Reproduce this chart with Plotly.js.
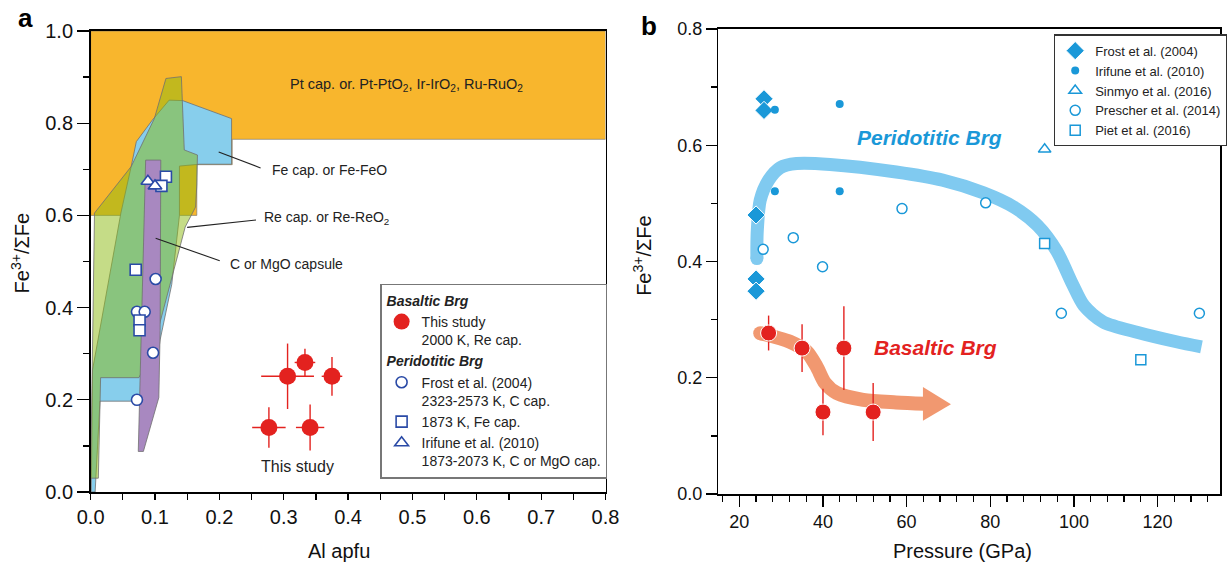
<!DOCTYPE html>
<html><head><meta charset="utf-8">
<script src="https://cdn.plot.ly/plotly-3.0.1.min.js"></script>
<style>body{margin:0;background:#fff}#chart{width:1227px;height:570px}</style>
</head><body><div id="chart"></div>
<script>
// ---------- Panel a : Fe3+/ΣFe vs Al apfu ----------
const basAl    = [0.306, 0.333, 0.375, 0.277, 0.341];
const basFe    = [0.251, 0.281, 0.251, 0.140, 0.140];
const basAlErr = [0.041, 0.016, 0.016, 0.026, 0.022];
const basFeErr = [0.071, 0.030, 0.042, 0.044, 0.050];

const frostAl = [0.101, 0.072, 0.084, 0.097, 0.072];
const frostFe = [0.462, 0.391, 0.391, 0.302, 0.200];
const feCapAl = [0.070, 0.076, 0.076, 0.117, 0.110];
const feCapFe = [0.482, 0.372, 0.351, 0.684, 0.664];
const irifAl  = [0.089, 0.100];
const irifFe  = [0.674, 0.664];

// capsule fields (outlines)
const ptFieldX = [0, 0.8, 0.8, 0.22, 0.22, 0.165, 0.165, 0, 0];
const ptFieldY = [1, 1, 0.765, 0.765, 0.71, 0.71, 0.6, 0.6, 1];
const feFieldX = [0.122,0.143,0.219,0.219,0.169,0.138,0.138,0.126,0.108,0.100,0.100,0.0145,0.007,0.001,0.003,0.047,0.063,0.071,0.096,0.122];
const feFieldY = [0.850,0.849,0.810,0.711,0.711,0.707,0.600,0.450,0.330,0.248,0.197,0.197,0.000,0.000,0.265,0.605,0.706,0.760,0.807,0.850];
const reFieldX = [0.000,0.006,0.063,0.099,0.117,0.141,0.1455,0.166,0.165,0.163,0.147,0.110,0.095,0.075,0.0155,0.012,0.000];
const reFieldY = [0.030,0.605,0.706,0.810,0.897,0.901,0.742,0.731,0.666,0.618,0.575,0.381,0.300,0.248,0.248,0.030,0.030];
const cFieldX  = [0.0855,0.109,0.108,0.106,0.082,0.074,0.0855];
const cFieldY  = [0.720,0.720,0.350,0.205,0.088,0.088,0.720];

// ---------- Panel b : Fe3+/ΣFe vs Pressure ----------
const frostP = [25.9, 25.9, 24.0, 24.0, 24.0];
const frostR = [0.680, 0.660, 0.480, 0.370, 0.349];
const irifP  = [28.5, 44.0, 28.5, 44.0];
const irifR  = [0.661, 0.671, 0.521, 0.521];
const sinmyoP = [93.0];
const sinmyoR = [0.593];
const prescherP = [25.7, 32.9, 39.9, 58.9, 78.9, 97.0, 130.0];
const prescherR = [0.421, 0.441, 0.391, 0.491, 0.501, 0.311, 0.311];
const pietP = [93.0, 116.0];
const pietR = [0.431, 0.231];

const basP    = [27.0, 35.0, 40.0, 45.0, 52.0];
const basR    = [0.277, 0.251, 0.141, 0.251, 0.141];
const basRErr = [0.030, 0.041, 0.040, 0.072, 0.050];

const peridTrendP = [24.2, 24.2, 24.3, 25.0, 27.0, 29.8, 33.7, 41.7, 57.5, 68.6, 78.4, 85.8, 91.3, 95.9, 99.6, 102.4, 107.0, 115.3, 124.5, 130.5];
const peridTrendR = [0.405, 0.430, 0.454, 0.5055, 0.540, 0.5616, 0.5685, 0.567, 0.554, 0.540, 0.518, 0.493, 0.462, 0.418, 0.362, 0.324, 0.296, 0.278, 0.262, 0.253];
const basTrendP = [25.0, 32.1, 36.1, 38.5, 40.5, 43.3, 49.6, 57.5, 64.5];
const basTrendR = [0.2767, 0.262, 0.245, 0.219, 0.191, 0.1737, 0.162, 0.1576, 0.1553];
const arrowHeadP = [63.9, 70.6, 63.9, 63.9];
const arrowHeadR = [0.184, 0.1545, 0.126, 0.184];

// ---------- styling ----------
const FONT = 'Arial, "Liberation Sans", Helvetica, sans-serif';
const RED = '#e3221f';
const DBLUE = '#2a4aa6';
const LBLUE = '#1a98d8';
const OUT = '#707070';
const PERID_BAND = 'rgb(128,202,240)';
const BAS_BAND = 'rgb(241,152,112)';

const traces = [];
function field(x, y, fill, lw) {
  traces.push({x, y, type:'scatter', mode:'lines', fill:'toself', fillcolor:fill,
    line:{color:OUT, width:lw}, xaxis:'x', yaxis:'y', showlegend:false, hoverinfo:'skip'});
}
field(ptFieldX, ptFieldY, 'rgb(248,182,45)', 0.6);
field(feFieldX, feFieldY, 'rgb(135,206,236)', 0.8);
field(reFieldX, reFieldY, 'rgba(139,185,15,0.5)', 0.8);
field(cFieldX, cFieldY, 'rgb(168,136,192)', 0.8);

// leader lines (panel a)
const leadFeX = [0.199, 0.264], leadFeY = [0.7375, 0.703];
const leadReX = [0.150, 0.257], leadReY = [0.574, 0.590];
const leadCX  = [0.101, 0.2006], leadCY = [0.5505, 0.5017];
[[leadFeX, leadFeY],[leadReX, leadReY],[leadCX, leadCY]].forEach(([x,y]) => {
  traces.push({x, y, type:'scatter', mode:'lines', line:{color:'#222', width:1.1},
    xaxis:'x', yaxis:'y', showlegend:false, hoverinfo:'skip'});
});

// panel a data
const grpFont = {family:FONT, size:14, weight:'bold', style:'italic', color:'#222'};
traces.push({x:basAl, y:basFe, type:'scatter', mode:'markers', xaxis:'x', yaxis:'y',
  name:'This study<br>2000 K, Re cap.', legend:'legend', legendgroup:'bas',
  legendgrouptitle:{text:'Basaltic Brg', font:grpFont},
  marker:{color:RED, size:17, line:{width:0}},
  error_x:{type:'data', array:basAlErr, color:RED, thickness:1.4, width:0},
  error_y:{type:'data', array:basFeErr, color:RED, thickness:1.4, width:0}});
const peridTitle = {text:'Peridotitic Brg', font:grpFont};
traces.push({x:frostAl, y:frostFe, type:'scatter', mode:'markers', xaxis:'x', yaxis:'y',
  name:'Frost et al. (2004)<br>2323-2573 K, C cap.', legend:'legend', legendgroup:'per', legendgrouptitle:peridTitle,
  marker:{symbol:'circle', color:'white', size:11, line:{color:DBLUE, width:1.6}}});
traces.push({x:feCapAl, y:feCapFe, type:'scatter', mode:'markers', xaxis:'x', yaxis:'y',
  name:'1873 K, Fe cap.', legend:'legend', legendgroup:'per', legendgrouptitle:peridTitle,
  marker:{symbol:'square', color:'white', size:11, line:{color:DBLUE, width:1.6}}});
traces.push({x:irifAl, y:irifFe, type:'scatter', mode:'markers', xaxis:'x', yaxis:'y',
  name:'Irifune et al. (2010)<br>1873-2073 K, C or MgO cap.', legend:'legend', legendgroup:'per', legendgrouptitle:peridTitle,
  marker:{symbol:'triangle-up', color:'white', size:12, line:{color:DBLUE, width:1.6}}});

// panel b trends
traces.push({x:peridTrendP, y:peridTrendR, type:'scatter', mode:'lines', xaxis:'x2', yaxis:'y2',
  line:{color:PERID_BAND, width:13, shape:'spline', smoothing:0.8}, showlegend:false, hoverinfo:'skip'});
traces.push({x:[peridTrendP[0]], y:[peridTrendR[0]], type:'scatter', mode:'markers', xaxis:'x2', yaxis:'y2',
  marker:{color:PERID_BAND, size:13, line:{width:0}}, showlegend:false, hoverinfo:'skip'});
traces.push({x:basTrendP, y:basTrendR, type:'scatter', mode:'lines', xaxis:'x2', yaxis:'y2',
  line:{color:BAS_BAND, width:14, shape:'spline', smoothing:0.8}, showlegend:false, hoverinfo:'skip'});
traces.push({x:[basTrendP[0]], y:[basTrendR[0]], type:'scatter', mode:'markers', xaxis:'x2', yaxis:'y2',
  marker:{color:BAS_BAND, size:14, line:{width:0}}, showlegend:false, hoverinfo:'skip'});
traces.push({x:arrowHeadP, y:arrowHeadR, type:'scatter', mode:'lines', fill:'toself', xaxis:'x2', yaxis:'y2',
  fillcolor:BAS_BAND, line:{width:0}, showlegend:false, hoverinfo:'skip'});

// panel b data
traces.push({x:frostP, y:frostR, type:'scatter', mode:'markers', xaxis:'x2', yaxis:'y2',
  name:'Frost et al. (2004)', legend:'legend2',
  marker:{symbol:'diamond', color:LBLUE, size:14, line:{color:'white', width:1}}});
traces.push({x:irifP, y:irifR, type:'scatter', mode:'markers', xaxis:'x2', yaxis:'y2',
  name:'Irifune et al. (2010)', legend:'legend2',
  marker:{symbol:'circle', color:LBLUE, size:8, line:{width:0}}});
traces.push({x:sinmyoP, y:sinmyoR, type:'scatter', mode:'markers', xaxis:'x2', yaxis:'y2',
  name:'Sinmyo et al. (2016)', legend:'legend2',
  marker:{symbol:'triangle-up', color:'white', size:11, line:{color:LBLUE, width:1.5}}});
traces.push({x:prescherP, y:prescherR, type:'scatter', mode:'markers', xaxis:'x2', yaxis:'y2',
  name:'Prescher et al. (2014)', legend:'legend2',
  marker:{symbol:'circle', color:'white', size:10, line:{color:LBLUE, width:1.5}}});
traces.push({x:pietP, y:pietR, type:'scatter', mode:'markers', xaxis:'x2', yaxis:'y2',
  name:'Piet et al. (2016)', legend:'legend2',
  marker:{symbol:'square', color:'white', size:10, line:{color:LBLUE, width:1.5}}});
traces.push({x:basP, y:basR, type:'scatter', mode:'markers', xaxis:'x2', yaxis:'y2', showlegend:false,
  marker:{color:RED, size:16, line:{color:'white', width:1}},
  error_y:{type:'data', array:basRErr, color:RED, thickness:1.4, width:0}});

const axBase = {showgrid:false, zeroline:false, showline:true, linecolor:'#000', linewidth:1.6,
  mirror:true, ticks:'outside', tickcolor:'#000', tickwidth:1.3};

function ann(text, xref, yref, x, y, size, extra) {
  return Object.assign({text, xref, yref, x, y, xanchor:'center', yanchor:'middle', showarrow:false,
    font:{size, family:FONT, color:'#111'}}, extra || {});
}

const layout = {
  width:1227, height:570, margin:{l:0,r:0,t:0,b:0}, paper_bgcolor:'white', plot_bgcolor:'white',
  font:{family:FONT, color:'#111'},
  xaxis:Object.assign({}, axBase, {domain:[0.07416,0.49552], range:[0,0.8], dtick:0.1, tick0:0, tickformat:'.1f',
    ticklen:6, tickfont:{size:20}, minor:{dtick:0.05, ticklen:6, tickcolor:'#000', ticks:'outside'}, anchor:'y'}),
  yaxis:Object.assign({}, axBase, {domain:[0.13684,0.94561], range:[0,1.0], dtick:0.2, tick0:0, tickformat:'.1f',
    ticklen:12, tickfont:{size:20}, minor:{dtick:0.1, ticklen:6, tickcolor:'#000', ticks:'outside'}, anchor:'x'}),
  xaxis2:Object.assign({}, axBase, {domain:[0.5879,0.9986], range:[15,135], dtick:20, tick0:0,
    ticklen:11, tickfont:{size:18}, minor:{dtick:4, ticklen:6, tickcolor:'#000', ticks:'outside'}, anchor:'y2'}),
  yaxis2:Object.assign({}, axBase, {domain:[0.1333,0.9491], range:[0,0.8], dtick:0.2, tick0:0, tickformat:'.1f',
    ticklen:11, tickfont:{size:18}, minor:{dtick:0.1, ticklen:6, tickcolor:'#000', ticks:'outside'}, anchor:'x2'}),
  legend:{x:0.3113, y:0.5025, xanchor:'left', yanchor:'top', bgcolor:'white', bordercolor:'#777', borderwidth:1.2,
    font:{size:14, family:FONT, color:'#222'}, traceorder:'grouped', tracegroupgap:0, valign:'top', itemwidth:30},
  legend2:{x:0.8628, y:0.9395, xanchor:'left', yanchor:'top', bgcolor:'white', bordercolor:'#333', borderwidth:1.2,
    font:{size:13, family:FONT, color:'#222'}, itemwidth:30, tracegroupgap:0},
  showlegend:true,
  annotations:[
    ann('<b>a</b>', 'paper', 'paper', 26/1227, 1-18/570, 26, {font:{size:26, family:FONT, color:'#000'}}),
    ann('<b>b</b>', 'paper', 'paper', 652/1227, 1-26/570, 26, {font:{size:26, family:FONT, color:'#000'}}),
    ann('Fe<sup>3+</sup>/ΣFe', 'paper', 'paper', 20.8/1227, 1-252.7/570, 20, {textangle:-90}),
    ann('Fe<sup>3+</sup>/ΣFe', 'paper', 'paper', 645/1227, 1-255.5/570, 20, {textangle:-90}),
    ann('Al apfu', 'paper', 'paper', 340.8/1227, 1-551/570, 20),
    ann('Pressure (GPa)', 'paper', 'paper', 966.5/1227, 1-551/570, 20),
    ann('Pt cap. or. Pt-PtO<sub>2</sub>, Ir-IrO<sub>2</sub>, Ru-RuO<sub>2</sub>', 'x', 'y', 0.49, 0.882, 14, {font:{size:14.5, family:FONT, color:'#222'}}),
    ann('Fe cap. or Fe-FeO', 'x', 'y', 0.279, 0.699, 14, {xanchor:'left', font:{size:14, family:FONT, color:'#222'}}),
    ann('Re cap. or Re-ReO<sub>2</sub>', 'x', 'y', 0.266, 0.594, 14, {xanchor:'left', font:{size:14, family:FONT, color:'#222'}}),
    ann('C or MgO capsule', 'x', 'y', 0.214, 0.494, 14, {xanchor:'left', font:{size:14, family:FONT, color:'#222'}}),
    ann('This study', 'x', 'y', 0.321, 0.056, 16, {font:{size:16, family:FONT, color:'#222'}}),
    ann('<b><i>Peridotitic Brg</i></b>', 'x2', 'y2', 65.5, 0.613, 21, {font:{size:21, family:FONT, color:LBLUE}}),
    ann('<b><i>Basaltic Brg</i></b>', 'x2', 'y2', 66.9, 0.2527, 21, {font:{size:21, family:FONT, color:RED}})
  ]
};

Plotly.newPlot('chart', traces, layout, {displayModeBar:false, staticPlot:true});
</script></body></html>
